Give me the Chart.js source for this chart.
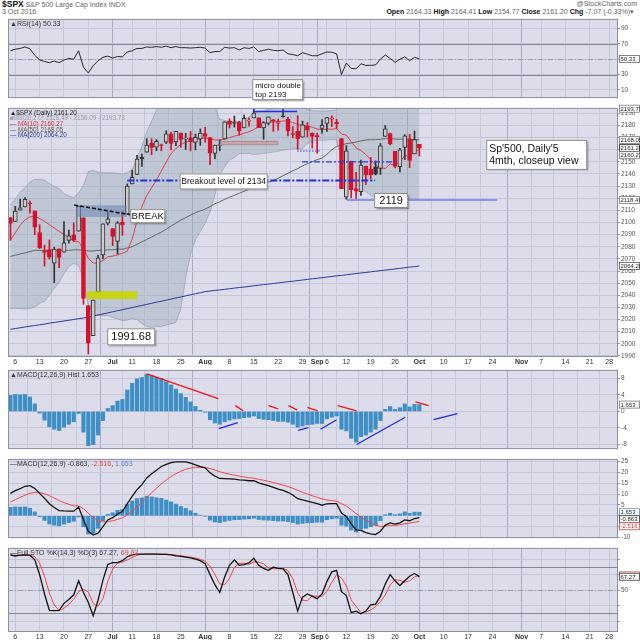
<!DOCTYPE html>
<html>
<head>
<meta charset="utf-8">
<script src="https://cdn.jsdelivr.net/npm/chart.js@4.4.1/dist/chart.umd.min.js"></script>
<style>
body{margin:0;background:#fff;width:640px;height:640px;overflow:hidden;position:relative;font-family:"Liberation Sans",Arial,sans-serif}
canvas{position:absolute;left:0}
.hd{position:absolute;font-size:7px;color:#666;white-space:nowrap;line-height:8px}
.hd b{color:#111}
</style>
</head>
<body>
<div class="hd" style="left:2px;top:0"><b style="font-size:8.5px">$SPX</b> S&amp;P 500 Large Cap Index INDX</div>
<div class="hd" style="left:2px;top:8px">3 Oct 2016</div>
<div class="hd" style="right:3px;top:0">@StockCharts.com</div>
<div class="hd" style="right:6px;top:8px"><b>Open</b> 2164.33 <b>High</b> 2164.41 <b>Low</b> 2154.77 <b>Close</b> 2161.20 <b>Chg</b> -7.07 (-0.33%)&#9662;</div>
<canvas id="rsi" width="640" height="89" style="top:14px"></canvas>
<canvas id="price" width="640" height="262" style="top:103px"></canvas>
<canvas id="hist" width="640" height="89" style="top:365px"></canvas>
<canvas id="macd" width="640" height="89" style="top:454px"></canvas>
<canvas id="sto" width="640" height="97" style="top:543px"></canvas>
<script>
// trading days 3 Jun 2016 .. 3 Oct 2016 (index 0..84), future days up to end of Nov on the axis
const tickPos  = [1,6,11,16,21,25,30,35,40,45,50,55,60,63,65,69,74,79,84,89,94,99,105,109,114,119,123];
const tickText = ['6','13','20','27','Jul','11','18','25','Aug','8','15','22','29','Sep','6','12','19','26','Oct','10','17','24','Nov','7','14','21','28'];
const prevClose = 2105.26;

const openP = [2104.07,2100.83,2110.18,2112.71,2115.65,2109.57,2091.75,2076.65,2077.60,2066.36,
 2078.20,2075.58,2085.19,2089.75,2092.80,2103.81,2031.45,2006.67,2042.69,2073.17,
 2099.34,2095.05,2084.43,2100.42,2106.97,2131.72,2139.50,2153.81,2157.88,2165.13,
 2162.04,2163.79,2166.10,2172.91,2166.47,2173.71,2168.97,2169.81,2166.05,2168.83,
 2173.15,2169.94,2156.81,2163.51,2168.79,2183.76,2182.24,2182.81,2177.97,2183.74,
 2186.08,2186.24,2177.84,2181.90,2184.24,2181.58,2187.81,2185.09,2173.29,2175.10,
 2170.19,2179.45,2173.56,2171.33,2177.49,2181.61,2185.17,2182.76,2169.08,2120.86,
 2150.47,2127.86,2125.36,2146.48,2143.99,2145.94,2144.58,2170.94,2173.29,2158.54,
 2146.04,2161.85,2168.90,2156.51,2164.33];
const highP = [2104.07,2113.36,2119.22,2120.55,2117.64,2109.57,2098.12,2081.30,2085.65,2079.62,
 2078.20,2100.66,2093.66,2099.71,2113.32,2103.81,2031.45,2036.09,2073.13,2098.94,
 2108.71,2095.05,2100.72,2109.08,2131.71,2143.16,2155.40,2156.45,2168.99,2169.05,
 2168.35,2164.63,2175.63,2174.56,2175.11,2173.71,2173.54,2174.98,2172.85,2177.09,
 2178.29,2170.20,2163.79,2168.19,2182.87,2185.44,2187.66,2183.41,2188.45,2186.28,
 2193.81,2186.24,2183.08,2187.03,2185.00,2185.15,2193.42,2186.66,2179.00,2187.94,
 2183.48,2182.27,2173.79,2173.56,2184.87,2186.57,2187.87,2184.94,2169.08,2163.30,
 2150.47,2141.33,2151.31,2146.48,2153.61,2150.80,2165.11,2179.99,2173.75,2158.54,
 2161.13,2172.40,2172.67,2175.30,2164.41];
const lowP = [2085.36,2100.83,2110.18,2112.71,2107.73,2089.96,2078.46,2064.10,2069.80,2050.37,
 2062.84,2075.58,2083.02,2084.36,2092.80,2032.57,1991.68,2006.67,2042.69,2070.00,
 2097.90,2080.86,2074.02,2089.39,2106.97,2131.72,2139.50,2146.21,2157.88,2155.79,
 2159.07,2159.01,2164.89,2159.75,2163.24,2161.95,2160.18,2159.07,2159.74,2163.49,
 2166.21,2147.58,2152.56,2159.07,2168.79,2177.85,2178.61,2172.00,2177.97,2179.42,
 2186.08,2178.14,2168.50,2180.46,2175.13,2175.96,2186.80,2171.25,2169.74,2160.39,
 2170.19,2170.41,2161.35,2157.09,2173.59,2175.10,2179.07,2177.49,2127.81,2119.12,
 2120.27,2119.90,2122.36,2131.20,2135.91,2139.17,2139.57,2170.94,2163.97,2145.04,
 2141.55,2151.79,2145.20,2156.51,2154.77];
const closeP = [2099.13,2109.41,2112.13,2119.12,2115.48,2096.07,2079.06,2075.32,2071.50,2077.99,
 2071.22,2083.25,2088.90,2085.45,2113.32,2037.41,2000.54,2036.09,2070.77,2098.86,
 2102.95,2088.55,2099.73,2097.90,2129.90,2137.16,2152.14,2152.43,2163.75,2161.74,
 2166.89,2163.78,2173.02,2165.17,2175.03,2168.48,2169.18,2166.58,2170.06,2173.60,
 2170.84,2157.03,2163.79,2164.25,2182.87,2180.89,2181.74,2175.49,2185.79,2184.05,
 2190.15,2178.15,2182.22,2187.02,2183.87,2182.64,2186.90,2175.44,2172.47,2169.04,
 2180.38,2176.12,2170.95,2170.86,2179.98,2186.48,2186.16,2181.30,2127.81,2159.04,
 2127.02,2125.77,2147.26,2139.16,2139.12,2139.76,2163.12,2177.18,2164.69,2146.10,
 2159.93,2171.37,2151.13,2168.27,2161.20];

const ma10 = [2085.7,2091.4,2097.8,2102.1,2104.6,2105.2,2103.2,2101.0,2098.2,2095.5,
 2092.7,2090.1,2087.8,2084.4,2084.2,2078.3,2070.5,2066.6,2066.5,2068.6,
 2071.8,2072.3,2073.4,2074.6,2076.3,2086.2,2101.4,2113.0,2122.3,2128.6,
 2135.0,2142.5,2149.9,2156.6,2161.1,2164.2,2166.0,2167.4,2168.0,2169.2,
 2169.6,2168.9,2168.0,2167.9,2168.7,2169.9,2171.2,2172.1,2173.6,2174.7,
 2176.6,2178.7,2180.6,2182.8,2182.9,2183.1,2183.6,2183.6,2182.3,2180.8,
 2179.8,2179.6,2178.5,2176.9,2176.5,2176.9,2176.8,2177.4,2172.9,2171.9,
 2166.6,2161.5,2159.2,2156.0,2151.9,2147.2,2144.9,2144.5,2148.2,2146.9,
 2150.2,2154.8,2155.2,2158.1,2160.3];
const ma50 = [2072,2073,2074,2075,2076,2077,2077,2077,2077,2077,
 2077,2077,2077,2077.5,2077.5,2077,2076.5,2076.5,2077,2077,
 2077.5,2077.5,2078,2078,2079,2080,2082,2084,2086,2088,
 2090,2092,2094.5,2097,2099.5,2102,2104,2106,2108,2109.5,
 2111.0,2113.0,2115.4,2117.1,2119.0,2120.8,2122.4,2124.0,2125.7,2127.3,
 2129.1,2130.5,2131.9,2133.3,2134.6,2136.4,2138.5,2140.5,2142.6,2144.4,
 2146.6,2148.4,2150.1,2151.8,2153.1,2156.1,2159.8,2162.7,2163.8,2165.0,
 2165.5,2166.3,2167.2,2168.0,2168.2,2168.3,2168.5,2169.0,2169.0,2168.7,
 2168.6,2168.7,2168.3,2168.3,2168.05];
const ma200 = [2012.0,2012.6,2013.2,2013.9,2014.5,2015.1,2015.7,2016.3,2017.0,2017.6,
 2018.2,2018.8,2019.4,2020.1,2020.7,2021.3,2022.0,2022.9,2023.8,2024.6,
 2025.5,2026.4,2027.3,2028.1,2029.0,2029.9,2030.8,2031.6,2032.5,2033.4,
 2034.3,2035.1,2036.0,2036.9,2037.8,2038.6,2039.5,2040.4,2041.3,2042.1,
 2043.0,2043.5,2044.0,2044.4,2044.9,2045.4,2045.9,2046.4,2046.8,2047.3,
 2047.8,2048.3,2048.8,2049.2,2049.7,2050.2,2050.7,2051.2,2051.6,2052.1,
 2052.6,2053.1,2053.6,2054.0,2054.5,2055.0,2055.5,2056.0,2056.4,2056.9,
 2057.4,2057.9,2058.4,2058.8,2059.3,2059.8,2060.3,2060.8,2061.2,2061.7,
 2062.2,2062.7,2063.2,2063.6,2064.2];
const bbUpper = [2114.5,2119.3,2125.0,2128.7,2133.3,2135.5,2135.5,2134.9,2132.1,2129.7,
 2127.8,2123.8,2121.8,2120.3,2124.4,2130.4,2142.0,2142.8,2141.4,2140.9,
 2141.0,2140.8,2140.6,2139.9,2140.8,2143.7,2152.0,2162.8,2174.6,2183.6,
 2192.4,2200.4,2207.6,2214.6,2219.7,2221.4,2212.7,2206.4,2204.4,2205.3,
 2205.3,2202.7,2194.9,2185.0,2184.1,2182.7,2183.6,2182.7,2184.8,2186.9,
 2190.3,2191.0,2191.7,2193.2,2193.6,2194.3,2195.2,2195.4,2195.4,2194.9,
 2195.4,2193.2,2192.1,2191.9,2191.7,2192.0,2192.2,2192.7,2203.4,2203.2,
 2206.8,2209.6,2208.8,2207.4,2206.2,2204.1,2201.9,2202.0,2200.6,2198.4,
 2197.0,2196.2,2194.8,2194.6,2193.73];
const bbLower = [2028.9,2029.3,2029.0,2028.7,2029.3,2030.3,2033.5,2034.9,2040.1,2045.7,
 2050.6,2057.8,2063.8,2066.3,2064.4,2053.2,2031.6,2024.8,2023.4,2023.3,
 2023.4,2021.6,2020.6,2019.1,2019.6,2020.9,2019.9,2016.8,2014.2,2013.6,
 2014.4,2014.4,2015.6,2016.6,2017.7,2029.0,2054.7,2074.0,2086.0,2092.5,
 2099.3,2108.7,2122.9,2139.4,2145.7,2151.5,2153.6,2156.7,2156.8,2156.9,
 2155.9,2156.6,2156.9,2157.6,2158.0,2158.7,2159.6,2160.2,2160.6,2160.5,
 2161.0,2165.2,2166.9,2167.9,2167.7,2168.0,2168.2,2168.3,2151.8,2149.6,
 2139.6,2131.6,2128.8,2125.4,2122.2,2120.1,2119.9,2120.0,2120.6,2120.4,
 2119.8,2120.2,2119.6,2119.4,2118.49];

const rsi14 = [61,63,64,66,63.5,55,49,47,45.5,47.5,
 45.5,49,51,50,61,39.5,32,41.5,48,52.5,
 54,51.5,53.5,53,59.5,61,64,64,66,65.5,
 66.5,65.5,67,65,66.5,65,65,64.5,65,65.5,
 64.5,58.5,60,60,65.5,64.5,65,62,65,64,
 66,60,61.5,63,61.5,61,62,57,56,54.5,
 58.5,56.5,54.5,54.5,57,59.5,59,57,30,45,
 38,37.5,44,42,42,42.5,50,55.5,51,46,
 50,53,48,52.5,50.33];

const macdHist = [3.9,4.1,4.0,4.1,3.5,1.8,-0.4,-2.1,-3.7,-4.3,
 -4.6,-3.8,-3.1,-2.5,-0.5,-5.0,-8.3,-8.0,-5.7,-2.2,
 0.7,1.4,2.5,2.9,5.2,6.8,7.9,8.2,9.0,8.7,
 8.3,8.0,7.2,6.4,5.4,4.3,3.4,2.3,1.2,0.3,
 -0.2,-2.0,-2.8,-3.1,-2.5,-2.1,-1.8,-1.7,-1.5,-1.4,
 -1.1,-1.7,-1.9,-2.0,-2.2,-2.4,-2.4,-2.6,-3.1,-3.8,
 -3.5,-3.2,-3.1,-2.9,-2.9,-1.8,-1.4,-1.1,-4.3,-4.7,
 -6.5,-7.4,-6.1,-5.7,-5.0,-4.3,-2.2,0.5,1.2,0.5,
 0.9,1.8,1.1,1.7,1.653];
const macdLine = [10.30,11.53,12.43,13.55,13.83,12.58,10.28,8.05,5.53,3.85,
 2.40,2.25,2.18,2.15,4.03,-1.72,-7.10,-8.80,-7.93,-4.98,
 -1.90,-0.85,0.87,2.00,5.60,8.90,11.98,14.33,17.38,19.25,
 20.93,22.63,23.63,24.43,24.78,24.75,24.70,24.18,23.38,22.55,
 22.00,19.70,18.20,17.13,17.10,16.98,16.83,16.50,16.33,16.08,
 16.10,15.08,14.40,13.80,13.05,12.25,11.65,10.80,9.53,7.88,
 7.30,6.80,6.13,5.60,4.88,5.53,5.58,5.60,1.33,-0.25,
 -3.67,-6.42,-6.65,-7.68,-8.23,-8.60,-7.05,-4.23,-3.23,-3.80,
 -3.18,-1.83,-2.25,-1.23,-0.863];
const macdSignal = [6.40,7.43,8.43,9.45,10.33,10.78,10.68,10.15,9.23,8.15,
 7.00,6.05,5.28,4.65,4.53,3.28,1.20,-0.80,-2.23,-2.78,
 -2.60,-2.25,-1.63,-0.90,0.40,2.10,4.08,6.13,8.38,10.55,
 12.63,14.63,16.43,18.03,19.38,20.45,21.30,21.88,22.18,22.25,
 22.20,21.70,21.00,20.23,19.60,19.08,18.63,18.20,17.83,17.48,
 17.20,16.78,16.30,15.80,15.25,14.65,14.05,13.40,12.63,11.68,
 10.80,10.00,9.23,8.50,7.78,7.33,6.98,6.70,5.63,4.45,
 2.83,0.98,-0.55,-1.98,-3.23,-4.30,-4.85,-4.73,-4.43,-4.30,
 -4.08,-3.63,-3.35,-2.93,-2.516];

const stoK = [95.5,94,95,95.5,95,89,70,45,24,23.5,
 24,33,38,44,62,47,34,17,37,63,
 83,85.5,85.5,88,93,95.5,96.5,96.5,96.5,96.5,
 96.5,96,96,95.5,94,93.5,92.5,91.5,90,88,
 84,70,57,47,67,82,89,82,83,85,
 91,82,78,75.5,79.5,78,77.5,70,47,23,
 41,45,42,39,45,61,73.5,75.5,48,43,
 21,23,19.5,23,31,32,42,58,70,62,
 56,62,68,71.5,67.27];
const stoD = [94.8,94.8,94.8,94.8,95.2,93.2,84.7,68,46.3,30.8,
 23.8,26.8,31.7,38.3,48,51,47.7,32.7,29.3,39,
 61,77.2,84.7,86.3,88.8,92.2,95,96.2,96.5,96.5,
 96.5,96.3,96.2,95.8,95.2,94.3,93.3,92.5,91.3,89.8,
 87.3,80.7,70.3,58,57,65.3,79.3,84.3,84.7,83.3,
 86.3,86,83.7,78.5,77.7,77.7,78.3,75.2,64.8,46.7,
 37,36.3,42.7,42,42,48.3,59.8,70,65.7,55.5,
 37.3,29,21.2,21.8,24.5,28.7,35,44,56.7,63.3,
 62.7,60,62,67.2,69.02];

// ---------- styling ----------
const FONT = '"Liberation Sans", Arial, sans-serif';
const BG = '#dcdcea', GRID = '#c6c6d9', GRID_M = '#aaaac3', FRAME = '#8e8ea3';
const RED = '#d8102c', UPC = '#333';
const X_MIN = -0.5, X_MAX = 124.8;

const isMonth = v => { const k = tickPos.indexOf(v); return k >= 0 && isNaN(+tickText[k]); };
const pts = arr => arr.map((v, i) => ({x: i, y: v}));

function xScale(showLabels) {
  return {
    type: 'linear', min: X_MIN, max: X_MAX, offset: false,
    afterBuildTicks: s => { s.ticks = tickPos.map(v => ({value: v})); },
    afterFit: s => { s.height = showLabels ? 8 : 0; },
    grid: {color: c => isMonth(c.tick && c.tick.value) ? GRID_M : GRID, drawTicks: false},
    border: {display: false},
    ticks: {
      display: showLabels, autoSkip: false, maxRotation: 0, minRotation: 0, padding: 1, color: '#333',
      font: c => ({family: FONT, size: 7, weight: isMonth(c.tick && c.tick.value) ? 'bold' : 'normal'}),
      callback: v => { const k = tickPos.indexOf(v); return k >= 0 ? tickText[k] : ''; }
    }
  };
}
function yScale(min, max, ticks, label) {
  return {
    position: 'right', min: min, max: max,
    afterBuildTicks: s => { s.ticks = ticks.map(v => ({value: v})); },
    afterFit: s => { s.width = 22; },
    grid: {color: GRID, tickLength: 2, tickColor: '#999'},
    border: {display: false},
    ticks: {padding: 1, color: '#555', font: {family: FONT, size: 6.5}, callback: label || (v => String(v))}
  };
}
function opts(ymin, ymax, yt, showX, ylab) {
  return {
    responsive: false, animation: false, events: [],
    layout: {padding: {left: 8, top: 0, right: 0, bottom: 0}, autoPadding: false},
    plugins: {legend: {display: false}, tooltip: {enabled: false}},
    scales: {x: xScale(showX), y: yScale(ymin, ymax, yt, ylab)}
  };
}

// ---------- drawing helpers ----------
function drawBox(g, cx, cy, n) {
  const x = cx - n.w / 2, y = cy - n.h / 2;
  g.save();
  g.shadowColor = 'rgba(0,0,0,0.35)'; g.shadowOffsetX = 1.5; g.shadowOffsetY = 1.5; g.shadowBlur = 1.5;
  g.fillStyle = '#fff'; g.fillRect(x, y, n.w, n.h);
  g.restore();
  g.save();
  g.strokeStyle = '#8a8a8a'; g.lineWidth = 1; g.strokeRect(x + 0.5, y + 0.5, n.w - 1, n.h - 1);
  g.fillStyle = '#111'; g.font = n.size + 'px ' + FONT; g.textBaseline = 'middle';
  const lh = n.size * 1.15, top = cy - (n.lines.length - 1) * lh / 2;
  n.lines.forEach((t, k) => {
    if (n.align === 'left') { g.textAlign = 'left'; g.fillText(t, x + 3, top + k * lh + 0.5); }
    else { g.textAlign = 'center'; g.fillText(t, cx, top + k * lh + 0.5); }
  });
  g.restore();
}
function drawNotes(c, notes) {
  const g = c.ctx, X = c.scales.x, Y = c.scales.y;
  notes.forEach(n => {
    g.save();
    if (n.type === 'line') {
      g.beginPath();
      g.moveTo(X.getPixelForValue(n.i1), Y.getPixelForValue(n.v1));
      g.lineTo(X.getPixelForValue(n.i2), Y.getPixelForValue(n.v2));
      g.strokeStyle = n.color; g.lineWidth = n.w || 1; g.setLineDash(n.dash || []); g.stroke();
    } else if (n.type === 'rect') {
      const x1 = X.getPixelForValue(n.i1), x2 = X.getPixelForValue(n.i2);
      const y1 = Y.getPixelForValue(n.v2), y2 = Y.getPixelForValue(n.v1);
      g.fillStyle = n.fill; g.fillRect(x1, y1, x2 - x1, y2 - y1);
      if (n.stroke) { g.strokeStyle = n.stroke; g.lineWidth = 1; g.strokeRect(x1 + 0.5, y1 + 0.5, x2 - x1 - 1, y2 - y1 - 1); }
    } else if (n.type === 'box') {
      drawBox(g, X.getPixelForValue(n.i), Y.getPixelForValue(n.v), n);
    }
    g.restore();
  });
}
function drawLegend(c, lines, size, lh) {
  const g = c.ctx, a = c.chartArea;
  g.save(); g.font = size + 'px ' + FONT; g.textBaseline = 'top';
  lines.forEach((segs, k) => {
    let x = a.left + 2;
    segs.forEach(s => { g.fillStyle = s[1]; g.fillText(s[0], x, a.top + 2 + k * lh); x += g.measureText(s[0]).width; });
  });
  g.restore();
}
function drawValueBoxes(c, boxes) {
  const g = c.ctx, Y = c.scales.y, a = c.chartArea;
  let last = -99;
  g.save(); g.font = '6px ' + FONT; g.textBaseline = 'middle';
  boxes.forEach(b => {
    let y = Y.getPixelForValue(b.v);
    if (!b.free && y < last + 7) y = last + 7;
    last = y;
    g.fillStyle = '#fff'; g.fillRect(a.right + 1, y - 3.5, 21, 7);
    g.strokeStyle = b.border; g.lineWidth = 0.8; g.strokeRect(a.right + 1.5, y - 3.5, 20, 7);
    g.fillStyle = b.color || '#222'; g.fillText(b.t, a.right + 2.5, y + 0.5);
  });
  g.restore();
}
function deco(spec) {
  return {
    id: 'deco',
    beforeDraw(c) {
      const a = c.chartArea, g = c.ctx;
      g.save(); g.fillStyle = BG; g.fillRect(a.left, a.top, a.right - a.left, a.bottom - a.top); g.restore();
    },
    beforeDatasetsDraw(c) {
      const a = c.chartArea, g = c.ctx, Y = c.scales.y;
      (spec.levels || []).forEach(l => {
        const y = Math.round(Y.getPixelForValue(l.v)) + 0.5;
        g.save(); g.strokeStyle = l.color; g.lineWidth = l.w || 1; g.setLineDash(l.dash || []);
        g.beginPath(); g.moveTo(a.left, y); g.lineTo(a.right, y); g.stroke(); g.restore();
      });
    },
    afterDatasetsDraw(c) { drawNotes(c, spec.notes || []); },
    afterDraw(c) {
      const a = c.chartArea, g = c.ctx;
      g.save(); g.strokeStyle = FRAME; g.lineWidth = 1;
      g.strokeRect(a.left + 0.5, a.top + 0.5, a.right - a.left - 1, a.bottom - a.top - 1); g.restore();
      if (spec.legend) drawLegend(c, spec.legend, spec.legendSize || 7, spec.legendLh || 8);
      if (spec.boxes) drawValueBoxes(c, spec.boxes);
      (spec.topNotes || []).forEach(n => drawBox(g, c.scales.x.getPixelForValue(n.i), c.scales.y.getPixelForValue(n.v), n));
    }
  };
}

// ---------- RSI ----------
new Chart(document.getElementById('rsi'), {
  type: 'line',
  data: {datasets: [{data: pts(rsi14), borderColor: '#2a2a2a', borderWidth: 1, pointRadius: 0, tension: 0}]},
  options: opts(-0.7, 102.5, [10, 30, 50, 70, 90], false),
  plugins: [deco({
    levels: [{v: 70, color: '#85859a'}, {v: 30, color: '#85859a'}, {v: 50, color: '#9a9ab0', dash: [5, 2, 1, 2]}],
    legend: [[['\u25B2RSI(14) 50.33', '#333']]],
    boxes: [{v: 50.33, t: '50.33', border: '#666'}],
    topNotes: [{i: 54.9, v: 10.3, w: 51, h: 21, size: 8, align: 'left', lines: ['micro double', 'top 2193']}]
  })]
});

// ---------- Price ----------
const candleColor = i => closeP[i] >= (i ? closeP[i - 1] : prevClose) ? UPC : RED;
const bodyFill = i => closeP[i] > openP[i] ? 'rgba(250,250,252,0.75)' : candleColor(i);
const wicks = closeP.map((c, i) => ({x: i, y: [lowP[i], highP[i]]}));
const bodies = closeP.map((c, i) => {
  const lo = Math.min(openP[i], c), hi = Math.max(openP[i], c);
  return {x: i, y: hi - lo < 0.5 ? [lo - 0.25, hi + 0.25] : [lo, hi]};
});
new Chart(document.getElementById('price'), {
  type: 'bar',
  data: {datasets: [
    {type: 'line', data: pts(bbUpper), borderColor: 'rgba(140,152,168,0.8)', borderWidth: 0.8, pointRadius: 0,
     fill: '+1', backgroundColor: 'rgba(150,168,180,0.42)', order: 10},
    {type: 'line', data: pts(bbLower), borderColor: 'rgba(140,152,168,0.8)', borderWidth: 0.8, pointRadius: 0, fill: false, order: 10},
    {type: 'line', data: pts(ma200), borderColor: '#2b3a9c', borderWidth: 1, pointRadius: 0, order: 5},
    {type: 'line', data: pts(ma50), borderColor: '#5f6a5f', borderWidth: 1, pointRadius: 0, order: 5},
    {type: 'line', data: pts(ma10), borderColor: '#e0404c', borderWidth: 1, pointRadius: 0, order: 4},
    {type: 'bar', data: wicks, backgroundColor: closeP.map((c, i) => candleColor(i)), barThickness: 1, grouped: false, order: 2},
    {type: 'bar', data: bodies, backgroundColor: closeP.map((c, i) => bodyFill(i)), borderColor: closeP.map((c, i) => candleColor(i)),
     borderWidth: 1, borderSkipped: false, barThickness: 4, grouped: false, order: 1}
  ]},
  options: opts(1989.15, 2194.4, [1990,2000,2010,2020,2030,2040,2050,2060,2070,2080,2090,2100,2110,2120,2130,2140,2150,2160,2170,2180,2190], true),
  plugins: [deco({
    notes: [
      {type: 'rect', i1: 13.7, i2: 23.9, v1: 2104.5, v2: 2114.2, fill: 'rgba(105,135,180,0.55)'},
      {type: 'line', i1: 13.1, v1: 2114.4, i2: 24.6, v2: 2106.4, color: '#111', w: 1.6, dash: [4, 2]},
      {type: 'rect', i1: 15.7, i2: 26, v1: 2036.9, v2: 2043.3, fill: 'rgba(200,212,0,0.9)'},
      {type: 'rect', i1: 43.1, i2: 55, v1: 2163.7, v2: 2167.2, fill: 'rgba(212,150,150,0.75)', stroke: 'rgba(150,140,150,0.8)'},
      {type: 'line', i1: 49.8, v1: 2191.5, i2: 58.9, v2: 2191.5, color: '#1f2fe8', w: 1.5},
      {type: 'line', i1: 58.9, v1: 2158.9, i2: 63.6, v2: 2158.9, color: '#5a78f0', w: 1.5, dash: [1.5, 1.5]},
      {type: 'line', i1: 24, v1: 2134.6, i2: 74.9, v2: 2134.6, color: '#1f2fe0', w: 2, dash: [7, 2, 2, 2]},
      {type: 'line', i1: 59.9, v1: 2150, i2: 79.4, v2: 2150, color: '#2a3ae0', w: 1.3, dash: [6, 2, 2, 2]},
      {type: 'line', i1: 69.1, v1: 2118.5, i2: 100, v2: 2118.5, color: '#6a7ef0', w: 1.6},
      {type: 'box', i: 28.2, v: 2105.2, w: 35, h: 14, size: 9.5, lines: ['BREAK']},
      {type: 'box', i: 43.8, v: 2133.8, w: 88, h: 16, size: 8.5, lines: ['Breakout level of 2134']},
      {type: 'box', i: 78.2, v: 2118.1, w: 34, h: 15, size: 11, lines: ['2119']},
      {type: 'box', i: 24.8, v: 2005.8, w: 48, h: 17, size: 11, lines: ['1991.68']},
      {type: 'box', i: 108.1, v: 2155.7, w: 101, h: 30, size: 10.5, align: 'left', lines: ["Sp'500, Daily'5", '4mth, closeup view']}
    ],
    legend: [
      [['\u25B2$SPX (Daily) 2161.20', '#222']],
      [['\u25A0BB(20,2.0) 2118.49 - 2156.09 - 2193.73', '#9a9aa8']],
      [['\u2014 MA(10) 2160.27', '#d83040']],
      [['\u2014 MA(50) 2168.05', '#556055']],
      [['\u2014 MA(200) 2064.20', '#2b3a9c']]
    ],
    legendSize: 6.3, legendLh: 5.6,
    boxes: [
      {v: 2193.73, t: '2193.73', border: '#777'},
      {v: 2168.05, t: '2168.05', border: '#777'},
      {v: 2161.20, t: '2161.20', border: '#111'},
      {v: 2160.27, t: '2160.27', border: '#777'},
      {v: 2118.49, t: '2118.49', border: '#777'},
      {v: 2064.20, t: '2064.20', border: '#556'}
    ]
  })]
});

// ---------- MACD histogram ----------
new Chart(document.getElementById('hist'), {
  type: 'bar',
  data: {datasets: [{data: pts(macdHist), backgroundColor: '#3d8fc6', borderWidth: 0, barThickness: 3.5}]},
  options: opts(-9.1, 10.04, [-8, -6, -4, -2, 0, 2, 4, 6, 8], false),
  plugins: [deco({
    notes: [
      {type: 'line', i1: 28, v1: 9.1, i2: 42.7, v2: 3.1, color: '#f01414', w: 1.3},
      {type: 'line', i1: 46.2, v1: 1.4, i2: 47.8, v2: 0.15, color: '#f01414', w: 1.3},
      {type: 'line', i1: 53, v1: 1.4, i2: 55, v2: 0.6, color: '#f01414', w: 1.3},
      {type: 'line', i1: 57.1, v1: 1.4, i2: 58.9, v2: 0.4, color: '#f01414', w: 1.3},
      {type: 'line', i1: 61, v1: 1.0, i2: 63.1, v2: 0.15, color: '#f01414', w: 1.3},
      {type: 'line', i1: 67.2, v1: 1.4, i2: 71.1, v2: 0.15, color: '#f01414', w: 1.3},
      {type: 'line', i1: 83.2, v1: 2.3, i2: 85.9, v2: 1.4, color: '#f01414', w: 1.3},
      {type: 'line', i1: 42.8, v1: -4.15, i2: 46.7, v2: -2.7, color: '#1a2af0', w: 1.3},
      {type: 'line', i1: 59.1, v1: -4.6, i2: 61.2, v2: -3.9, color: '#1a2af0', w: 1.3},
      {type: 'line', i1: 63.7, v1: -4.3, i2: 67, v2: -2.0, color: '#1a2af0', w: 1.3},
      {type: 'line', i1: 71.1, v1: -8.0, i2: 81.1, v2: -1.4, color: '#1a2af0', w: 1.3},
      {type: 'line', i1: 86.9, v1: -2.0, i2: 91.8, v2: -0.5, color: '#1a2af0', w: 1.3}
    ],
    legend: [[['\u25B2MACD(12,26,9) Hist 1.653', '#333']]],
    boxes: [{v: 1.653, t: '1.653', border: '#777'}]
  })]
});

// ---------- MACD ----------
new Chart(document.getElementById('macd'), {
  type: 'bar',
  data: {datasets: [
    {type: 'line', data: pts(macdLine), borderColor: '#111', borderWidth: 1.3, pointRadius: 0, order: 1},
    {type: 'line', data: pts(macdSignal), borderColor: '#f04848', borderWidth: 1, pointRadius: 0, order: 2},
    {type: 'bar', data: pts(macdHist), backgroundColor: '#3d8fc6', borderWidth: 0, barThickness: 3.5, order: 3}
  ]},
  options: opts(-10.2, 26.1, [-10, -5, 0, 5, 10, 15, 20, 25], false),
  plugins: [deco({
    legend: [[['\u2014MACD(12,26,9) -0.863, ', '#333'], ['-2.516', '#e04848'], [', ', '#333'], ['1.653', '#5a8ac0']]],
    boxes: [
      {v: 1.653, t: '1.653', border: '#5a8ac0'},
      {v: -0.863, t: '-0.863', border: '#333'},
      {v: -2.516, t: '-2.516', border: '#e04848', color: '#d03030'}
    ]
  })]
});

// ---------- Full STO ----------
new Chart(document.getElementById('sto'), {
  type: 'line',
  data: {datasets: [
    {data: pts(stoK), borderColor: '#111', borderWidth: 1.3, pointRadius: 0, order: 1},
    {data: pts(stoD), borderColor: '#f04848', borderWidth: 1, pointRadius: 0, order: 2}
  ]},
  options: opts(-3.9, 104.4, [10, 20, 30, 40, 50, 60, 70, 80, 90], true, v => (v === 20 || v === 50 || v === 80) ? String(v) : ''),
  plugins: [deco({
    levels: [{v: 80, color: '#85859a'}, {v: 20, color: '#85859a'}, {v: 50, color: '#9a9ab0', dash: [5, 2, 1, 2]}],
    legend: [[['\u2014Full STO %K(14,3) %D(3) 67.27, ', '#333'], ['69.02', '#e04848']]],
    boxes: [
      {v: 69.02, t: '69.02', border: '#e04848', color: '#d03030', free: true},
      {v: 67.27, t: '67.27', border: '#333', free: true}
    ]
  })]
});
</script>
</body>
</html>
